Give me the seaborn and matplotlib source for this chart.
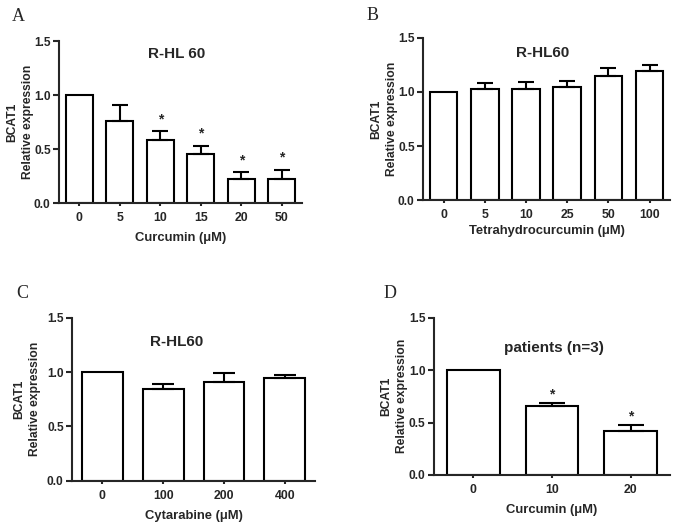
import numpy as np
import matplotlib
matplotlib.use('Agg')
import matplotlib.pyplot as plt
import matplotlib.transforms as mtransforms
import seaborn as sns

# values (mean, upper error bar length)
a_doses = ['0', '5', '10', '15', '20', '50']
a_mean = [1.0, 0.76, 0.58, 0.455, 0.22, 0.22]
a_err = [0.0, 0.145, 0.085, 0.077, 0.063, 0.088]
a_sig = [False, False, True, True, True, True]

b_doses = ['0', '5', '10', '25', '50', '100']
b_mean = [1.0, 1.03, 1.025, 1.05, 1.15, 1.195]
b_err = [0.0, 0.055, 0.067, 0.053, 0.067, 0.05]
b_sig = [False] * 6

c_doses = ['0', '100', '200', '400']
c_mean = [1.0, 0.84, 0.91, 0.945]
c_err = [0.0, 0.053, 0.077, 0.027]
c_sig = [False] * 4

d_doses = ['0', '10', '20']
d_mean = [1.0, 0.66, 0.42]
d_err = [0.0, 0.025, 0.056]
d_sig = [False, True, True]

sns.set_style('ticks')
plt.rcParams['font.family'] = ['Liberation Sans', 'DejaVu Sans']
plt.rcParams['font.weight'] = 'bold'

W, H = 677, 526
fig = plt.figure(figsize=(W / 100, H / 100), dpi=100)

panels = [
    # letter, axes rect, letter pos, doses, mean, err, sig, xlabel, title, title x, title y,
    # capsize, star offset, ylabel offset (px), xlabel pad
    ('A', [0.0871, 0.614, 0.359, 0.308], (0.0177, 0.960), a_doses, a_mean, a_err, a_sig,
     'Curcumin (\u03bcM)', 'R-HL 60', 0.486, 1.38, 6.0, 0.075, 24.5, 6),
    ('B', [0.6248, 0.6192, 0.365, 0.309], (0.542, 0.962), b_doses, b_mean, b_err, b_sig,
     'Tetrahydrocurcumin (\u03bcM)', 'R-HL60', 0.486, 1.36, 5.7, 0.075, 24.5, 3),
    ('C', [0.1064, 0.0861, 0.359, 0.310], (0.0247, 0.434), c_doses, c_mean, c_err, c_sig,
     'Cytarabine (\u03bcM)', 'R-HL60', 0.43, 1.28, 7.8, 0.075, 31.0, 6),
    ('D', [0.641, 0.097, 0.3486, 0.299], (0.566, 0.434), d_doses, d_mean, d_err, d_sig,
     'Curcumin (\u03bcM)', 'patients (n=3)', 0.51, 1.215, 9.6, 0.04, 25.5, 6),
]

for (letter, rect, lpos, doses, mean, err, sig, xlab, title, tx, ty,
     cap, soff, yoff, xpad) in panels:
    ax = fig.add_axes(rect)
    sns.barplot(x=doses, y=mean, order=doses, color='white', saturation=1,
                edgecolor='black', linewidth=1.5, width=0.67, errorbar=None, ax=ax)
    idx = [i for i, e in enumerate(err) if e > 0]
    ax.errorbar(idx, [mean[i] for i in idx],
                yerr=[[0] * len(idx), [err[i] for i in idx]],
                fmt='none', ecolor='black', elinewidth=1.5, capsize=cap, capthick=1.5)
    for i, s in enumerate(sig):
        if s:
            ax.text(i, mean[i] + err[i] + soff, '*', ha='center', va='baseline',
                    fontsize=10, fontweight='bold')
    ax.set_ylim(0, 1.5)
    ax.set_xlim(-0.5, len(doses) - 0.5)
    ax.set_yticks([0, 0.5, 1.0, 1.5])
    ax.set_yticklabels(['0.0', '0.5', '1.0', '1.5'])
    ax.tick_params(axis='y', direction='out', length=4, width=1.5, labelsize=8.6, pad=2)
    ax.tick_params(axis='x', direction='out', length=2.5, width=1.5, labelsize=8.8, pad=4)
    for s in ['left', 'bottom']:
        ax.spines[s].set_linewidth(1.5)
    sns.despine(ax=ax)
    ax.set_xlabel(xlab, fontsize=9.4, fontweight='bold', labelpad=xpad)
    ax.set_ylabel('BCAT1\nRelative expression', fontsize=8.7, fontweight='bold',
                  linespacing=1.45)
    ax.yaxis.set_label_coords(-yoff / (rect[2] * W), 0.5)
    ax.text(tx, ty, title,
            transform=mtransforms.blended_transform_factory(ax.transAxes, ax.transData),
            ha='center', va='center', fontsize=11, fontweight='bold')
    fig.text(lpos[0], lpos[1], letter, ha='left', va='baseline', fontsize=13,
             family=['Liberation Serif', 'DejaVu Serif'], fontweight='normal')

fig.savefig('out.png', dpi=100)
